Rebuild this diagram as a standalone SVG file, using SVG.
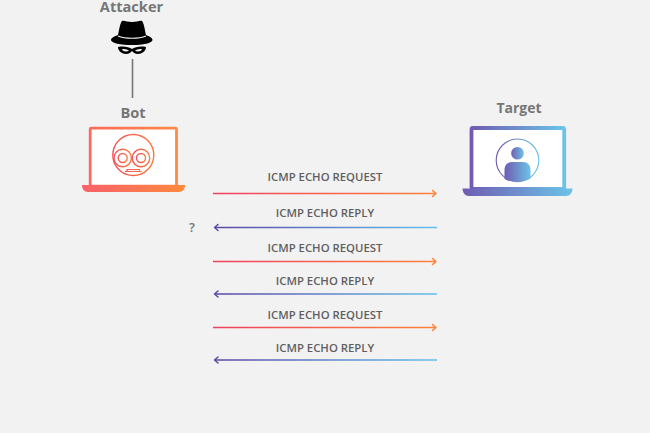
<svg xmlns="http://www.w3.org/2000/svg" width="650" height="433" viewBox="0 0 650 433">
<style>
.t{font-family:"Open Sans","Noto Sans",sans-serif;font-weight:700;fill:#767676;text-anchor:middle}
.h{font-size:14.6px}
.m{font-size:11.35px;font-weight:600;fill:#5f5f5f}
.c{fill:none;stroke-width:1.6}
.a{fill:none;stroke-width:1.5;stroke-linecap:round;stroke-linejoin:round}
</style>
<defs>
<linearGradient id="warm" x1="0" x2="1" y1="0" y2="0"><stop offset="0" stop-color="#f9606a"/><stop offset="1" stop-color="#fd8a3e"/></linearGradient>
<linearGradient id="warmT" x1="0" x2="1" y1="0" y2="0"><stop offset="0" stop-color="#fb6c5c"/><stop offset="1" stop-color="#fd8a48"/></linearGradient>
<linearGradient id="warmF" x1="0" x2="1" y1="0" y2="0"><stop offset="0" stop-color="#f4525a"/><stop offset="1" stop-color="#fb7a3c"/></linearGradient>
<linearGradient id="cool" x1="0" x2="1" y1="0" y2="0"><stop offset="0" stop-color="#6f5cb2"/><stop offset="1" stop-color="#6cc3e8"/></linearGradient>
<linearGradient id="warmL" gradientUnits="userSpaceOnUse" x1="213" x2="437" y1="0" y2="0"><stop offset="0" stop-color="#ef4060"/><stop offset="1" stop-color="#fd8238"/></linearGradient>
<linearGradient id="coolL" gradientUnits="userSpaceOnUse" x1="214" x2="437" y1="0" y2="0"><stop offset="0" stop-color="#5c46a8"/><stop offset="1" stop-color="#62c0ea"/></linearGradient>
</defs>
<rect width="650" height="433" fill="#f2f2f2"/>
<g id="attacker">
<text class="t h" x="131.500" y="12">Attacker</text>
<path d="M122 21C124 20 127 22 132 22C137 22 140 20 142 21C144 23 145 31 146 35C149 36 152.500 38 152.500 40C152.500 43 143 45 132 45C121 45 111 43 111 40C111 38 114.500 36 118 35C119 31 120 23 122 21Z" fill="#000"/>
<path d="M118 36C125 39 139 39 146 36" fill="none" stroke="#f2f2f2" stroke-width="1.200"/>
<path d="M118 47C124 46 129 47 132 49C135 47 140 46 146 47C146 51 142 54 138 54C135 54 133 52 132 51C131 52 129 54 126 54C122 54 118 51 118 47Z" fill="#000"/>
<path d="M122 49C124 49 127 49 129 50.500C127 52 123 52 122 49ZM142 49C140 49 137 49 135 50.500C137 52 141 52 142 49Z" fill="#f2f2f2"/>
</g>
<g id="bot">
<text class="t h" x="133" y="118">Bot</text>
<rect x="90.200" y="128.200" width="86.300" height="58" rx="1" fill="#fff" stroke="url(#warmT)" stroke-width="2.800"/>
<path d="M82 185H185C185 189 183 192 179 192H88C84 192 82 189 82 185Z" fill="url(#warm)"/>
<g fill="none" stroke="url(#warmF)" stroke-width="1.400">
<circle cx="133.300" cy="155" r="20.500"/>
<circle cx="122.700" cy="158" r="8.700"/><circle cx="122.700" cy="158" r="4.500"/>
<circle cx="141" cy="158" r="8.700"/><circle cx="141" cy="158" r="4.500"/>
<path d="M125 171.500H142M127 171.500V169.500H139.500V171.500" stroke-width="1.200"/>
</g>
</g>
<g id="target">
<text class="t" style="font-size:14px" x="519" y="113">Target</text>
<rect x="471.500" y="128" width="92.700" height="61" rx="1.500" fill="#fff" stroke="url(#cool)" stroke-width="3.800"/>
<path d="M462.500 188.500H572.500C572.500 192.500 570 196 566 196H469C465 196 462.500 192.500 462.500 188.500Z" fill="url(#cool)"/>
<circle cx="517.500" cy="160.300" r="21.300" fill="#fff" stroke="url(#cool)" stroke-width="1.100"/>
<circle cx="517.500" cy="153.300" r="6.300" fill="url(#cool)"/>
<path d="M504.500 179V170C504.500 165 507.500 162 512 162H523C527.500 162 530.500 165 530.500 170V178.500C527 180.500 522 181.600 517.500 181.600C513 181.600 508 181 504.500 179Z" fill="url(#cool)"/>
</g>
<g id="connectors">
<path d="M132.500 59V98" fill="none" stroke="#777" stroke-width="1.600"/>
<path class="c" stroke="url(#warmL)" d="M213 193.500H435.500"/><path class="a" stroke="#fd8238" d="M432.500 190.500L436 193.500L432.500 196.500"/>
<path class="c" stroke="url(#coolL)" d="M215 227.500H437"/><path class="a" stroke="#5c46a8" d="M218 224.500L214.500 227.500L218 230.500"/>
<path class="c" stroke="url(#warmL)" d="M213 261.500H435.500"/><path class="a" stroke="#fd8238" d="M432.500 258.500L436 261.500L432.500 264.500"/>
<path class="c" stroke="url(#coolL)" d="M215 294H437"/><path class="a" stroke="#5c46a8" d="M218 291L214.500 294L218 297"/>
<path class="c" stroke="url(#warmL)" d="M213 327.500H435.500"/><path class="a" stroke="#fd8238" d="M432.500 324.500L436 327.500L432.500 330.500"/>
<path class="c" stroke="url(#coolL)" d="M215 360H437"/><path class="a" stroke="#5c46a8" d="M218 357L214.500 360L218 363"/>
</g>
<g id="labels">
<text class="t m" x="325" y="180.500">ICMP ECHO REQUEST</text>
<text class="t m" x="325" y="216.500">ICMP ECHO REPLY</text>
<text class="t" style="font-size:13px;font-weight:600" x="192" y="232">?</text>
<text class="t m" x="325" y="251.500">ICMP ECHO REQUEST</text>
<text class="t m" x="325" y="285">ICMP ECHO REPLY</text>
<text class="t m" x="325" y="318.500">ICMP ECHO REQUEST</text>
<text class="t m" x="325" y="351.500">ICMP ECHO REPLY</text>
</g>
</svg>
